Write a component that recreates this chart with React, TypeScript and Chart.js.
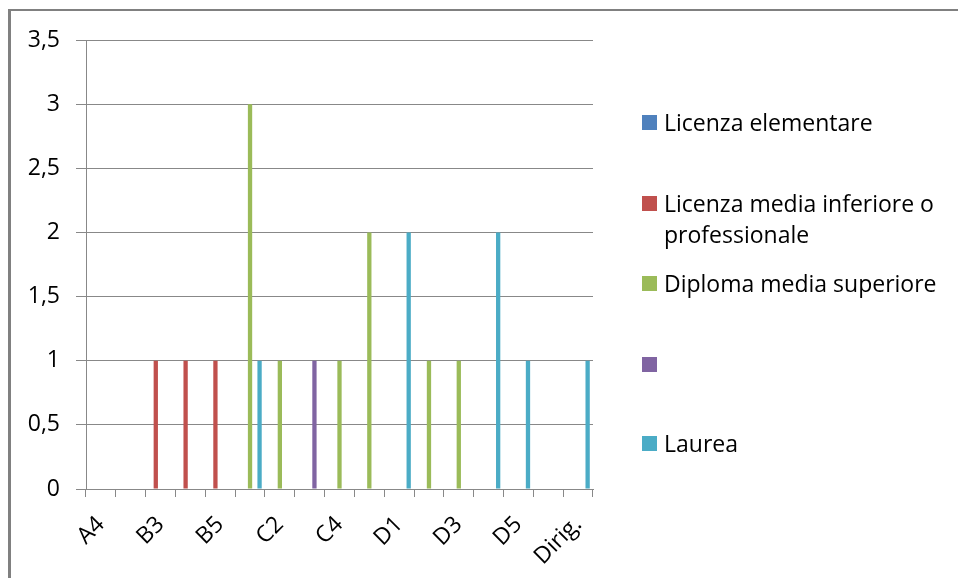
import React, { useEffect, useRef } from "react";
import { Chart, registerables } from "chart.js";

Chart.register(...registerables);

const categories = ["A4", "B1", "B3", "B4", "B5", "C1", "C2", "C3", "C4", "C5", "D1", "D2", "D3", "D4", "D5", "D6", "Dirig."];
const licenzaElementare = [0, 0, 0, 0, 0, 0, 0, 0, 0, 0, 0, 0, 0, 0, 0, 0, 0];
const licenzaMedia = [0, 0, 1, 1, 1, 0, 0, 0, 0, 0, 0, 0, 0, 0, 0, 0, 0];
const diplomaMedia = [0, 0, 0, 0, 0, 3, 1, 0, 1, 2, 0, 1, 1, 0, 0, 0, 0];
const senzaNome = [0, 0, 0, 0, 0, 0, 0, 1, 0, 0, 0, 0, 0, 0, 0, 0, 0];
const laurea = [0, 0, 0, 0, 0, 1, 0, 0, 0, 0, 2, 0, 0, 2, 1, 0, 1];
const yTicks = [0, 0.5, 1, 1.5, 2, 2.5, 3, 3.5];

const seriesNames = ["Licenza elementare", "Licenza media inferiore o professionale", "Diploma media superiore", "", "Laurea"];
const seriesValues = [licenzaElementare, licenzaMedia, diplomaMedia, senzaNome, laurea];
const seriesColors = ["#4F81BD", "#C0504D", "#9BBB59", "#8064A2", "#4BACC6"];
const legendTops = [122, 203, 283, 364, 443];

const FONT = "'Open Sans', 'Noto Sans', sans-serif";

export default function App() {
  const ref = useRef<HTMLCanvasElement | null>(null);

  useEffect(() => {
    if (!ref.current) return;
    const chart = new Chart(ref.current, {
      type: "bar",
      data: {
        labels: categories,
        datasets: seriesNames.map((name, i) => ({
          label: name,
          data: seriesValues[i],
          backgroundColor: seriesColors[i],
          borderWidth: 0,
          categoryPercentage: 0.8,
          barPercentage: 0.9,
        })),
      },
      options: {
        animation: false,
        responsive: false,
        layout: { padding: { left: 0, top: 40, right: 365, bottom: 0 } },
        plugins: { legend: { display: false }, tooltip: { enabled: false } },
        scales: {
          x: {
            grid: { display: true, drawOnChartArea: false, drawTicks: true, tickLength: 8, color: "#888", offset: true },
            border: { display: true, color: "#888", width: 1 },
            ticks: {
              autoSkip: false,
              maxRotation: 45,
              minRotation: 45,
              padding: 14,
              color: "#000",
              font: { family: FONT, size: 23 },
              callback: (_v: any, i: number) => (i % 2 === 0 ? categories[i] : ""),
            },
            afterFit: (s: any) => {
              s.height = 89;
            },
          },
          y: {
            min: 0,
            max: 3.5,
            afterBuildTicks: (s: any) => {
              s.ticks = yTicks.map((v) => ({ value: v }));
            },
            grid: { color: "#888", tickLength: 10 },
            border: { display: true, color: "#888", width: 1 },
            ticks: {
              padding: 16,
              color: "#000",
              font: { family: FONT, size: 23 },
              callback: (v: any) => String(v).replace(".", ","),
            },
            afterFit: (s: any) => {
              s.width = 86;
            },
          },
        },
      },
    });
    return () => chart.destroy();
  }, []);

  return (
    <div>
      <div
        style={{
          position: "fixed",
          left: 8,
          top: 9,
          width: 1000,
          height: 600,
          borderLeft: "3px solid #808080",
          borderTop: "2px solid #808080",
          background: "#fff",
        }}
      />
      <canvas ref={ref} width={958} height={578} style={{ position: "fixed", left: 0, top: 0, width: 958, height: 578 }} />
      {seriesNames.map((name, i) => (
        <div
          key={i}
          style={{
            position: "fixed",
            left: 642,
            top: legendTops[i] - 15,
            display: "flex",
            alignItems: "flex-start",
            fontFamily: FONT,
            fontSize: 23,
            lineHeight: "31px",
            color: "#000",
          }}
        >
          <div style={{ width: 15, height: 15, marginTop: 8, background: seriesColors[i], flex: "none" }} />
          <div style={{ marginLeft: 7, width: 300 }}>{name}</div>
        </div>
      ))}
    </div>
  );
}
